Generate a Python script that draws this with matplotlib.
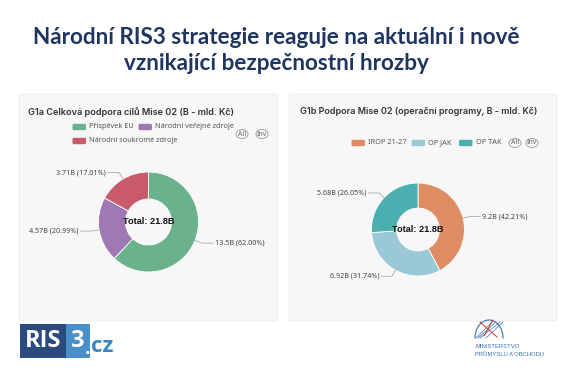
import matplotlib
matplotlib.use("Agg")
import matplotlib.pyplot as plt
import numpy as np
from matplotlib.patches import FancyBboxPatch, Rectangle, Ellipse

W, H = 567, 378

title_lines = ["Národní RIS3 strategie reaguje na aktuální i nově",
               "vznikající bezpečnostní hrozby"]

# G1a
a_title = "G1a Celková podpora cílů Mise 02 (B - mld. Kč)"
a_names = ["Příspěvek EU", "Národní veřejné zdroje", "Národní soukromé zdroje"]
a_values = [13.5, 4.57, 3.71]
a_pcts = [62.00, 20.99, 17.01]
a_colors = ["#6AB28C", "#A078B4", "#C85A69"]

# G1b
b_title = "G1b Podpora Mise 02 (operační programy, B - mld. Kč)"
b_names = ["IROP 21-27", "OP JAK", "OP TAK"]
b_values = [9.2, 6.92, 5.68]
b_pcts = [42.21, 31.74, 26.05]
b_colors = ["#DE8C64", "#9BC8D7", "#4BAFAF"]

total_label = "Total: 21.8B"

fig = plt.figure(figsize=(W / 100, H / 100), dpi=100)
bg = fig.add_axes([0, 0, 1, 1])
bg.set_xlim(0, W)
bg.set_ylim(H, 0)
bg.axis("off")

NAVY = "#1F3560"
for i, line in enumerate(title_lines):
    bg.text(276, 38 + i * 25, line, ha="center", va="center", fontsize=16.2,
            fontweight="bold", family="Lato", color=NAVY)

# panels
for x0, x1 in [(19, 278), (289, 557)]:
    bg.add_patch(FancyBboxPatch((x0, 94), x1 - x0, 227, boxstyle="round,pad=0,rounding_size=2",
                                facecolor="#F7F7F7", edgecolor="#EEEEEE", lw=0.6))

TXT = "#333333"
bg.text(28.5, 112, a_title, ha="left", va="center", fontsize=6.6, family="Inter",
        fontweight="semibold", color=TXT)
bg.text(300, 112, b_title, ha="left", va="center", fontsize=6.5, family="Inter",
        fontweight="semibold", color=TXT)


def legend_item(x, y, color, name):
    bg.add_patch(FancyBboxPatch((x, y - 3.2), 13.5, 6.4, boxstyle="round,pad=0,rounding_size=1.5",
                                facecolor=color, edgecolor="none"))
    bg.text(x + 16.5, y, name, ha="left", va="center", fontsize=5.3,
            family="Noto Sans", color="#555555")


def toggles(xa, xi, y):
    for x, t in [(xa, "All"), (xi, "Inv")]:
        bg.add_patch(Ellipse((x, y), 12, 9, facecolor="none", edgecolor="#999999", lw=0.6))
        bg.text(x, y, t, ha="center", va="center", fontsize=5, family="Noto Sans", color="#666666")


legend_item(72.5, 127, a_colors[0], a_names[0])
legend_item(138.5, 127, a_colors[1], a_names[1])
legend_item(72.5, 141, a_colors[2], a_names[2])
toggles(242, 262, 134)

legend_item(351.5, 143, b_colors[0], b_names[0])
legend_item(411.5, 143, b_colors[1], b_names[1])
legend_item(459, 143, b_colors[2], b_names[2])
toggles(515, 532, 143)


def donut(cx, cy, r, values, pcts, colors):
    ax = fig.add_axes([(cx - r) / W, 1 - (cy + r) / H, 2 * r / W, 2 * r / H])
    wedges, _ = ax.pie(values, colors=colors, startangle=90, counterclock=False,
                       radius=1, wedgeprops=dict(width=0.54, edgecolor="white", linewidth=0.6))
    ax.set_xlim(-1, 1)
    ax.set_ylim(-1, 1)
    for w, v, p in zip(wedges, values, pcts):
        th = np.deg2rad((w.theta1 + w.theta2) / 2)
        c, s = np.cos(th), np.sin(th)
        x1, y1 = 1.0 * c, 1.0 * s
        x2, y2 = 1.15 * c, 1.15 * s
        d = 1 if c >= 0 else -1
        x3 = x2 + d * 0.22
        ax.plot([x1, x2, x3], [y1, y2, y2], color="#AAAAAA", lw=0.6, clip_on=False)
        ax.text(x3 + d * 0.05, y2, f"{v}B ({p:.2f}%)", ha="left" if d > 0 else "right",
                va="center", fontsize=5.2, family="Noto Sans", color="#444444", clip_on=False)
    ax.text(0, 0, total_label, ha="center", va="center", fontsize=6.6,
            family="Liberation Sans", fontweight="bold", color="#111111")


donut(148.5, 222, 50, a_values, a_pcts, a_colors)
donut(418, 229.5, 46.5, b_values, b_pcts, b_colors)

# RIS3.cz logo
bg.add_patch(Rectangle((20, 324), 46, 34, facecolor="#2B4A7E", edgecolor="none"))
bg.add_patch(Rectangle((66, 324), 24, 34, facecolor="#4A90C8", edgecolor="none"))
bg.text(43, 341, "RIS", ha="center", va="center", fontsize=17, fontweight="bold",
        family="Open Sans", color="white")
bg.text(77, 341, "3", ha="center", va="center", fontsize=17, fontweight="bold",
        family="Open Sans", color="white")
bg.text(87.5, 354, ".", ha="center", va="baseline", fontsize=14, fontweight="bold",
        family="Open Sans", color="white")
bg.text(91, 346, "cz", ha="left", va="center", fontsize=16, fontweight="bold",
        family="Open Sans", color="#3A86C4")

# ministry logo
MB = "#3A6FB0"
t = np.linspace(0, np.pi, 30)
bg.plot(489 + 14 * np.cos(t), 338 - 18 * np.sin(t), color=MB, lw=0.8)
for xa, xb in [(476, 492), (480, 500), (486, 503), (478, 496)]:
    bg.plot([xa, xb], [338, 322], color=MB, lw=0.5)
bg.plot([480, 497], [322, 337], color="#C0392B", lw=0.7)
bg.plot([484, 493], [336, 320], color="#C0392B", lw=0.7)
bg.text(475, 347, "MINISTERSTVO", ha="left", va="center", fontsize=4.2,
        family="Liberation Sans", color=MB)
bg.text(475, 354.5, "PRŮMYSLU A OBCHODU", ha="left", va="center", fontsize=4.2,
        family="Liberation Sans", color=MB)

fig.savefig("out.png", dpi=100)
